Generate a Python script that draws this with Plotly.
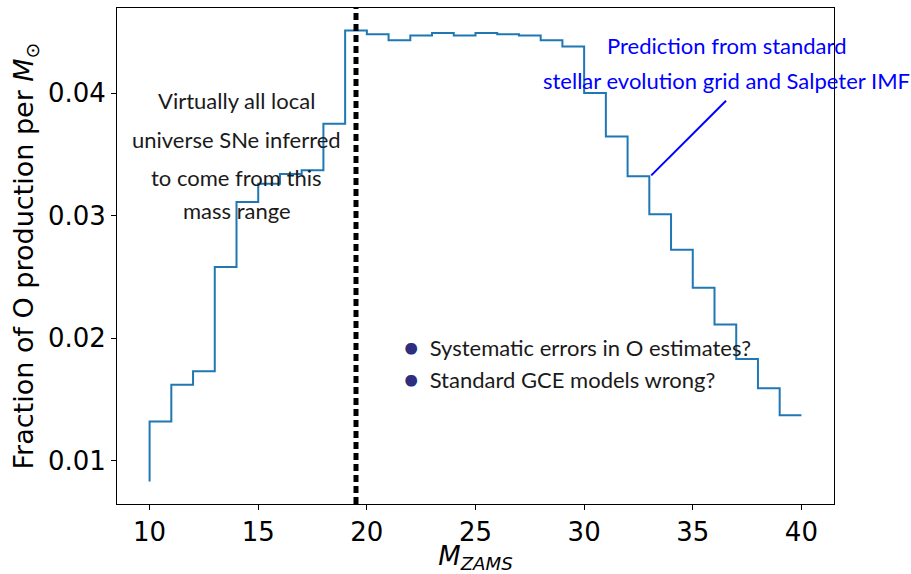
import plotly.graph_objects as go

# Data
masses = list(range(10, 41))
o_frac = [0.0083, 0.0132, 0.0162, 0.0173, 0.0258, 0.0311, 0.0326, 0.0334, 0.0337, 0.0375,
          0.0451, 0.0448, 0.0443, 0.0447, 0.0449, 0.0447, 0.0449, 0.0448, 0.0447, 0.0443,
          0.0438, 0.0400, 0.03645, 0.0332, 0.0301, 0.0272, 0.0241, 0.0211, 0.0183, 0.0159,
          0.0137]
cutoff_mass = 19.5
x_ticks = [10, 15, 20, 25, 30, 35, 40]
y_ticks = [0.01, 0.02, 0.03, 0.04]

left_lines = ["Virtually all local", "universe SNe inferred", "to come from this", "mass range"]
left_line_y = [0.03943, 0.03618, 0.03309, 0.03041]
left_x = 14.0

pred_lines = ["Prediction from standard", "stellar evolution grid and Salpeter IMF"]
pred_line_y = [0.0439, 0.04106]
pred_x = 36.55
pointer_from = (36.53, 0.03937)
pointer_to = (33.09, 0.03328)

bullets = ["Systematic errors in O estimates?", "Standard GCE models wrong?"]
bullet_y = [0.01935, 0.01667]
bullet_x = 21.62

xmin, xmax = min(masses), max(masses)
ymin, ymax = min(o_frac), max(o_frac)
xpad = 0.05 * (xmax - xmin)
ypad = 0.05 * (ymax - ymin)

fig = go.Figure()
fig.add_trace(go.Scatter(x=masses, y=o_frac, mode="lines", line_shape="vh",
                         line=dict(color="#1f77b4", width=2), showlegend=False))

fig.add_shape(type="line", xref="x", yref="paper", x0=cutoff_mass, x1=cutoff_mass, y0=0, y1=1,
              line=dict(color="black", width=5, dash="7px,4px"))

ann_font = "Lato"
ann_size = 22
for t, yv in zip(left_lines, left_line_y):
    fig.add_annotation(x=left_x, y=yv, text=t, showarrow=False, xanchor="center", yanchor="middle",
                       font=dict(family=ann_font, size=ann_size, color="#1a1a1a"))
for t, yv in zip(pred_lines, pred_line_y):
    fig.add_annotation(x=pred_x, y=yv, text=t, showarrow=False, xanchor="center", yanchor="middle",
                       font=dict(family=ann_font, size=ann_size, color="#0000ff"))
fig.add_shape(type="line", xref="x", yref="y", x0=pointer_from[0], y0=pointer_from[1],
              x1=pointer_to[0], y1=pointer_to[1], line=dict(color="#0000ff", width=2))
for t, yv in zip(bullets, bullet_y):
    fig.add_annotation(x=bullet_x, y=yv, showarrow=False, xanchor="left", yanchor="middle",
                       text='<span style="color:#2e2e80;font-size:24px">●</span>  ' + t,
                       font=dict(family=ann_font, size=ann_size, color="#1a1a1a"))

axis_common = dict(showline=True, linecolor="black", linewidth=1, mirror=True, ticks="outside",
                   ticklen=5, tickwidth=1, tickcolor="black", showgrid=False, zeroline=False,
                   tickfont=dict(family="DejaVu Sans", size=26, color="black"))
fig.update_xaxes(range=[xmin - xpad, xmax + xpad], tickvals=x_ticks,
                 title=dict(text="<i>M</i><sub><i>ZAMS</i></sub>",
                            font=dict(family="DejaVu Sans", size=26, color="black"), standoff=2),
                 **axis_common)
fig.update_yaxes(range=[ymin - ypad, ymax + ypad], tickvals=y_ticks, tickformat=".2f",
                 title=dict(text="Fraction of O production per <i>M</i><sub>⊙</sub>",
                            font=dict(family="DejaVu Sans", size=27, color="black"), standoff=6),
                 **axis_common)
fig.update_layout(width=911, height=574, margin=dict(l=117, r=77, t=7, b=67),
                  plot_bgcolor="white", paper_bgcolor="white")
fig.write_html("out.html")
